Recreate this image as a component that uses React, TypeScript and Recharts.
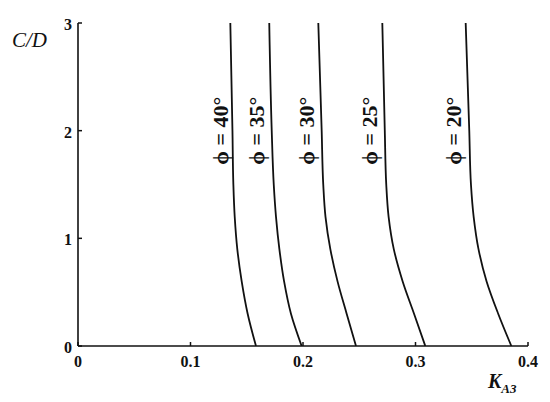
import React from 'react';
import { LineChart, Line, XAxis, YAxis, ReferenceDot } from 'recharts';

// C/D levels at which K values were read (top to bottom)
const cdLevels = [3, 2, 1.5, 1.2, 0.9, 0.6, 0.3, 0];
const k40 = [0.1354, 0.1373, 0.1381, 0.1393, 0.1416, 0.1455, 0.1508, 0.1582];
const k35 = [0.1700, 0.1722, 0.1740, 0.1760, 0.1790, 0.1832, 0.1893, 0.1988];
const k30 = [0.2136, 0.2166, 0.2180, 0.2200, 0.2243, 0.2307, 0.2388, 0.2471];
const k25 = [0.2705, 0.2727, 0.2740, 0.2761, 0.2807, 0.2886, 0.2987, 0.3087];
const k20 = [0.3446, 0.3478, 0.3493, 0.3517, 0.3560, 0.3632, 0.3735, 0.3852];

const seriesNames = ['ϕ = 40°', 'ϕ = 35°', 'ϕ = 30°', 'ϕ = 25°', 'ϕ = 20°'];
const seriesK = [k40, k35, k30, k25, k20];
const labelK = [0.1271, 0.1588, 0.2031, 0.2587, 0.3336];
const labelC = 2.0;

const xTicks = [0, 0.1, 0.2, 0.3, 0.4];
const yTicks = [0, 1, 2, 3];

const FONT = '"Liberation Serif", "DejaVu Serif", serif';
const INK = '#111';

const series = seriesK.map((ks) => ks.map((k, i) => ({ k, c: cdLevels[i] })));

const XTick = (props: any) => {
  const { x, y, payload } = props;
  return (
    <g>
      <line x1={x} y1={y} x2={x} y2={y - 4} stroke={INK} strokeWidth={1.5} />
      <text x={x} y={y + 21} textAnchor="middle" fontFamily={FONT} fontWeight="bold" fontSize={16} fill={INK}>
        {payload.value}
      </text>
    </g>
  );
};

const YTick = (props: any) => {
  const { x, y, payload } = props;
  return (
    <g>
      <line x1={x + 6} y1={y} x2={x + 10} y2={y} stroke={INK} strokeWidth={1.5} />
      <text x={x} y={y + 7} textAnchor="end" fontFamily={FONT} fontWeight="bold" fontSize={16} fill={INK}>
        {payload.value}
      </text>
    </g>
  );
};

const YLabel = (props: any) => {
  const vb = props.viewBox || { x: 0, y: 0 };
  return (
    <text x={vb.x + 12} y={vb.y + 24} fontFamily={FONT} fontStyle="italic" fontSize={21} fill={INK}>
      C/D
    </text>
  );
};

const XLabel = (props: any) => {
  const vb = props.viewBox || { x: 0, y: 0 };
  return (
    <text x={vb.x + 410} y={vb.y + 42} fontFamily={FONT} fontStyle="italic" fontWeight="bold" fontSize={20} fill={INK}>
      <tspan>K</tspan>
      <tspan fontSize={13} dy={5}>A3</tspan>
    </text>
  );
};

const makePhiLabel = (text: string) => (props: any) => {
  const vb = props.viewBox || { x: 0, y: 0 };
  const cx = vb.x + (vb.width || 0) / 2;
  const cy = vb.y + (vb.height || 0) / 2;
  return (
    <text
      x={cx}
      y={cy}
      transform={`rotate(-90 ${cx} ${cy})`}
      textAnchor="middle"
      dominantBaseline="central"
      fontFamily={FONT}
      fontWeight="bold"
      fontSize={22}
      fill={INK}
      style={{ whiteSpace: 'pre' }}
    >
      {text}
    </text>
  );
};

export default function App() {
  return (
    <div style={{ position: 'absolute', left: 0, top: 0, width: 550, height: 402, background: '#fff' }}>
      <LineChart layout="vertical" width={550} height={402} margin={{ top: 23, right: 22, left: 0, bottom: 0 }}>
        <XAxis
          type="number"
          domain={[0, 0.4]}
          ticks={xTicks}
          allowDataOverflow
          height={56}
          tickSize={0}
          tickMargin={0}
          tickLine={false}
          tick={<XTick />}
          axisLine={{ stroke: INK, strokeWidth: 1.6 }}
          label={<XLabel />}
        />
        <YAxis
          dataKey="c"
          type="number"
          domain={[0, 3]}
          ticks={yTicks}
          reversed
          allowDataOverflow
          width={78}
          tickSize={0}
          tickMargin={6}
          tickLine={false}
          tick={<YTick />}
          axisLine={{ stroke: INK, strokeWidth: 1.6 }}
          label={<YLabel />}
        />
        {series.map((d, i) => (
          <Line
            key={seriesNames[i]}
            data={d}
            dataKey="k"
            type="monotone"
            stroke={INK}
            strokeWidth={1.8}
            dot={false}
            activeDot={false}
            isAnimationActive={false}
          />
        ))}
        {labelK.map((k, i) => (
          <ReferenceDot
            key={'lbl' + i}
            x={k}
            y={labelC}
            r={0}
            fill="none"
            stroke="none"
            ifOverflow="visible"
            label={makePhiLabel(seriesNames[i])}
          />
        ))}
      </LineChart>
    </div>
  );
}
